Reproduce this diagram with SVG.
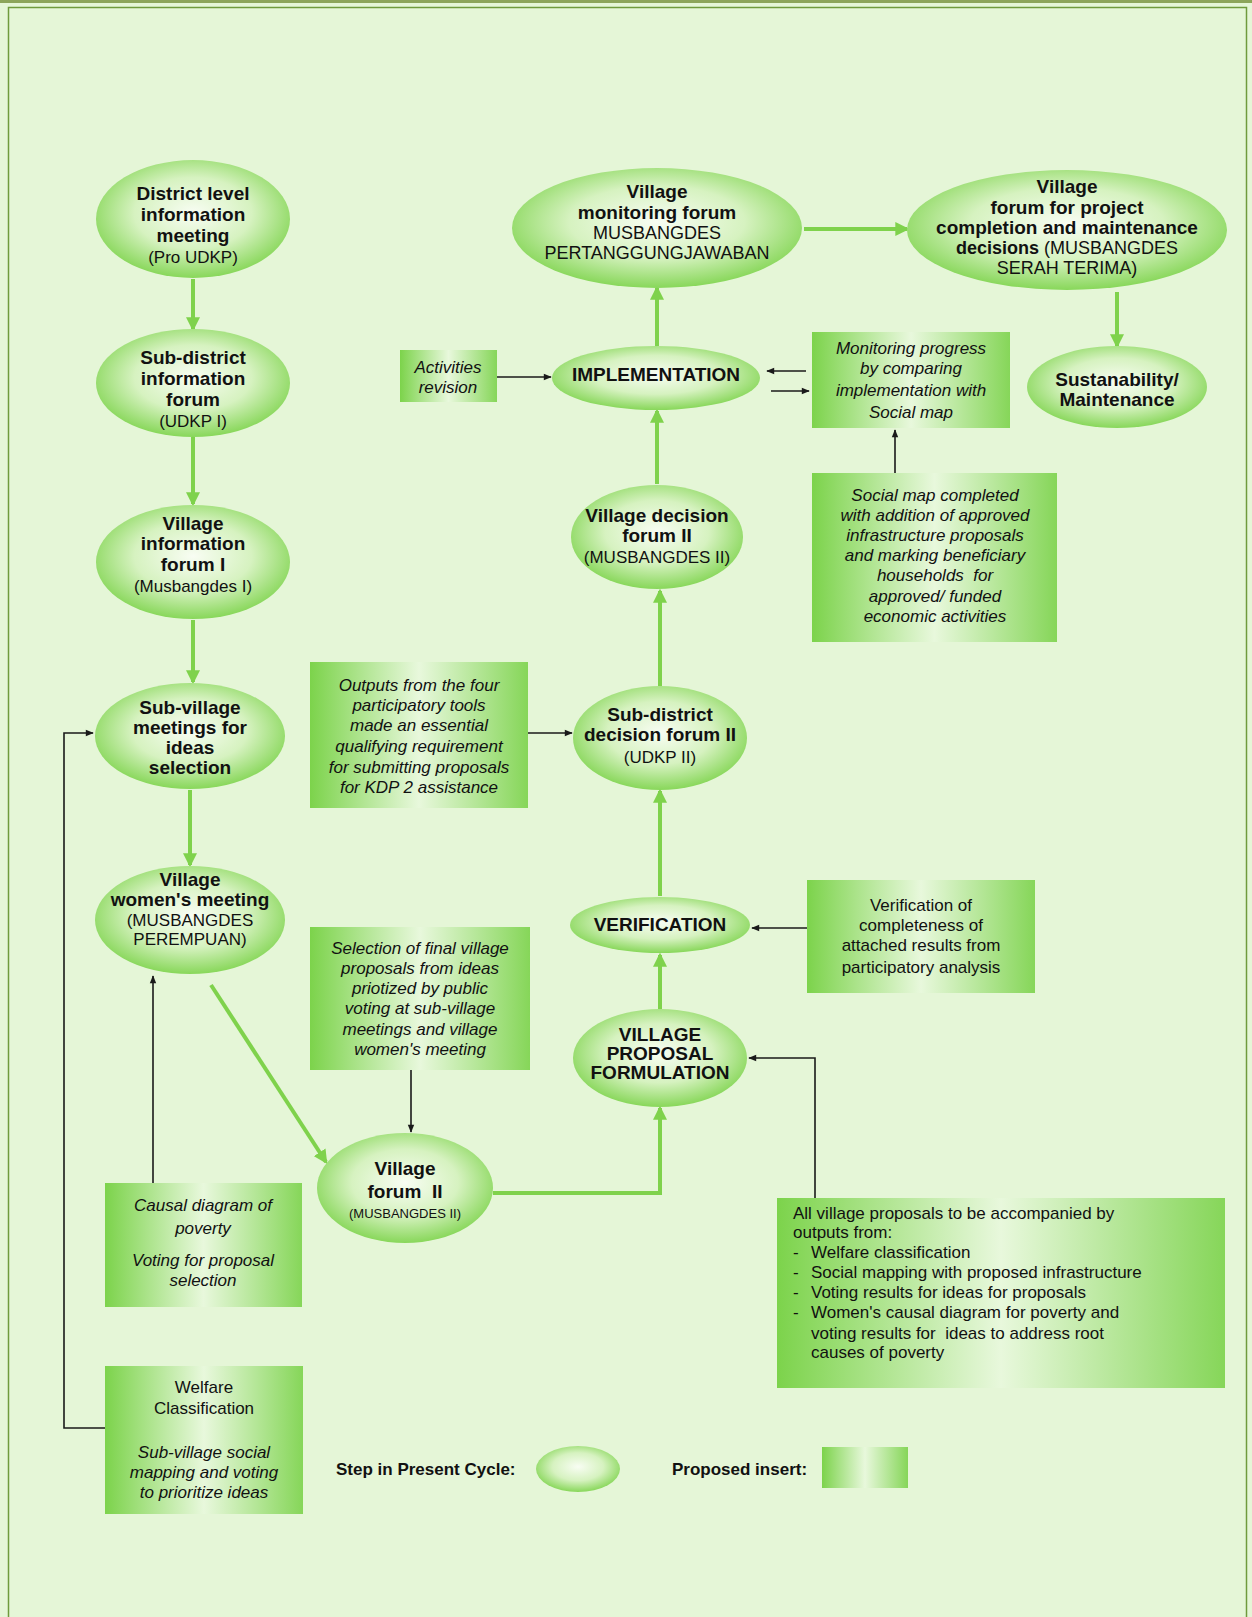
<svg xmlns="http://www.w3.org/2000/svg" width="1252" height="1617" viewBox="0 0 1252 1617">
<style>
.bg{fill:#e5f6d7}
.ell{fill:url(#eg)}
.box{fill:url(#bg)}
.t{font-family:"Liberation Sans",Arial,sans-serif;fill:#111;text-anchor:middle}
.b{font-weight:bold;font-size:19px}
.n{font-size:17px}
.i{font-style:italic;font-size:17px}
.gc{fill:none;stroke:#7fd24c;stroke-width:4;marker-end:url(#ga)}
.kc{fill:none;stroke:#1a1a1a;stroke-width:1.6;marker-end:url(#ka)}
.kl{fill:none;stroke:#1a1a1a;stroke-width:1.6}
</style>
<defs>
<radialGradient id="eg" cx="50%" cy="45%" r="55%">
<stop offset="0" stop-color="#f8fdf3"/>
<stop offset="0.55" stop-color="#d6f2c0"/>
<stop offset="1" stop-color="#88d75a"/>
</radialGradient>
<linearGradient id="bg" x1="0" y1="0" x2="1" y2="0">
<stop offset="0" stop-color="#7cd34b"/>
<stop offset="0.5" stop-color="#e8f8dc"/>
<stop offset="1" stop-color="#86d659"/>
</linearGradient>
<marker id="ga" viewBox="0 0 12 12" refX="10" refY="6" markerWidth="14" markerHeight="14" markerUnits="userSpaceOnUse" orient="auto"><path d="M0,0 L12,6 L0,12 z" fill="#7fd24c"/></marker>
<marker id="ka" viewBox="0 0 10 10" refX="9" refY="5" markerWidth="9" markerHeight="8" markerUnits="userSpaceOnUse" orient="auto"><path d="M0,1 L10,5 L0,9 z" fill="#1a1a1a"/></marker>
</defs>
<rect class="bg" x="0" y="0" width="1252" height="1617"/>
<rect x="0" y="0" width="1252" height="3" fill="#8ca55a"/>
<rect x="8.5" y="7.5" width="1238" height="1620" fill="none" stroke="#6f9b3c" stroke-width="1.5"/>

<g id="connectors">
<path class="gc" d="M193,279 L193,329"/>
<path class="gc" d="M193,437 L193,504"/>
<path class="gc" d="M193,620 L193,682"/>
<path class="gc" d="M190,790 L190,865"/>
<path class="gc" d="M211,985 L326,1162"/>
<path class="gc" d="M493,1193 L660,1193 L660,1108"/>
<path class="gc" d="M660,1009 L660,955"/>
<path class="gc" d="M660,896 L660,791"/>
<path class="gc" d="M660,686 L660,591"/>
<path class="gc" d="M657,484 L657,411"/>
<path class="gc" d="M657,346 L657,288"/>
<path class="gc" d="M804,229 L907,229"/>
<path class="gc" d="M1117,292 L1117,346"/>
<path class="kc" d="M497,377 L551,377"/>
<path class="kc" d="M806,371 L767,371"/>
<path class="kc" d="M771,391 L809,391"/>
<path class="kc" d="M895,473 L895,430"/>
<path class="kc" d="M528,733 L572,733"/>
<path class="kc" d="M411,1070 L411,1132"/>
<path class="kc" d="M807,928 L752,928"/>
<path class="kc" d="M815,1198 L815,1058 L749,1058"/>
<path class="kc" d="M153,1183 L153,976"/>
<path class="kc" d="M105,1428 L64,1428 L64,733 L93,733"/>
</g>

<g id="n-district">
<ellipse class="ell" cx="193" cy="219" rx="97" ry="59"/>
<text class="t b" x="193" y="200">District level</text>
<text class="t b" x="193" y="221">information</text>
<text class="t b" x="193" y="242">meeting</text>
<text class="t n" x="193" y="263">(Pro UDKP)</text>
</g>
<g id="n-subdistrict-info">
<ellipse class="ell" cx="193" cy="383" rx="97" ry="54"/>
<text class="t b" x="193" y="364">Sub-district</text>
<text class="t b" x="193" y="385">information</text>
<text class="t b" x="193" y="406">forum</text>
<text class="t n" x="193" y="427">(UDKP I)</text>
</g>
<g id="n-village-info">
<ellipse class="ell" cx="193" cy="562" rx="97" ry="57"/>
<text class="t b" x="193" y="530">Village</text>
<text class="t b" x="193" y="550">information</text>
<text class="t b" x="193" y="571">forum I</text>
<text class="t n" x="193" y="592">(Musbangdes I)</text>
</g>
<g id="n-subvillage">
<ellipse class="ell" cx="190" cy="736" rx="95" ry="53"/>
<text class="t b" x="190" y="714">Sub-village</text>
<text class="t b" x="190" y="734">meetings for</text>
<text class="t b" x="190" y="754">ideas</text>
<text class="t b" x="190" y="774">selection</text>
</g>
<g id="n-women">
<ellipse class="ell" cx="190" cy="920" rx="95" ry="54"/>
<text class="t b" x="190" y="886">Village</text>
<text class="t b" x="190" y="906">women's meeting</text>
<text class="t n" x="190" y="926">(MUSBANGDES</text>
<text class="t n" x="190" y="945">PEREMPUAN)</text>
</g>
<g id="n-vforum2">
<ellipse class="ell" cx="405" cy="1188" rx="88" ry="55"/>
<text class="t b" x="405" y="1175" font-size="20">Village</text>
<text class="t b" x="405" y="1198" font-size="20" xml:space="preserve">forum  II</text>
<text class="t" x="405" y="1218" font-size="13">(MUSBANGDES II)</text>
</g>
<g id="n-proposal">
<ellipse class="ell" cx="660" cy="1058" rx="87" ry="49"/>
<text class="t b" x="660" y="1041">VILLAGE</text>
<text class="t b" x="660" y="1060">PROPOSAL</text>
<text class="t b" x="660" y="1079">FORMULATION</text>
</g>
<g id="n-verification">
<ellipse class="ell" cx="660" cy="925" rx="90" ry="28"/>
<text class="t b" x="660" y="931">VERIFICATION</text>
</g>
<g id="n-subdistrict-decision">
<ellipse class="ell" cx="660" cy="738" rx="87" ry="52"/>
<text class="t b" x="660" y="721">Sub-district</text>
<text class="t b" x="660" y="741">decision forum II</text>
<text class="t n" x="660" y="763">(UDKP II)</text>
</g>
<g id="n-village-decision">
<ellipse class="ell" cx="657" cy="537" rx="86" ry="52"/>
<text class="t b" x="657" y="522">Village decision</text>
<text class="t b" x="657" y="542">forum II</text>
<text class="t n" x="657" y="563">(MUSBANGDES II)</text>
</g>
<g id="n-implementation">
<ellipse class="ell" cx="656" cy="378" rx="104" ry="32"/>
<text class="t b" x="656" y="381">IMPLEMENTATION</text>
</g>
<g id="n-monitoring">
<ellipse class="ell" cx="657" cy="228" rx="145" ry="60"/>
<text class="t b" x="657" y="198">Village</text>
<text class="t b" x="657" y="219">monitoring forum</text>
<text class="t" x="657" y="239" font-size="18">MUSBANGDES</text>
<text class="t" x="657" y="259" font-size="18">PERTANGGUNGJAWABAN</text>
</g>
<g id="n-completion">
<ellipse class="ell" cx="1067" cy="230" rx="160" ry="60"/>
<text class="t b" x="1067" y="193">Village</text>
<text class="t b" x="1067" y="214">forum for project</text>
<text class="t b" x="1067" y="234">completion and maintenance</text>
<text class="t" x="1067" y="254" font-size="18"><tspan font-weight="bold">decisions</tspan> (MUSBANGDES</text>
<text class="t" x="1067" y="274" font-size="18">SERAH TERIMA)</text>
</g>
<g id="n-sustainability">
<ellipse class="ell" cx="1117" cy="387" rx="90" ry="41"/>
<text class="t b" x="1117" y="386">Sustanability/</text>
<text class="t b" x="1117" y="406">Maintenance</text>
</g>

<g id="b-activities">
<rect class="box" x="400" y="350" width="97" height="52"/>
<text class="t i" x="448" y="373" font-size="15">Activities</text>
<text class="t i" x="448" y="393" font-size="15">revision</text>
</g>
<g id="b-monitoring">
<rect class="box" x="812" y="332" width="198" height="96"/>
<text class="t i" x="911" y="354">Monitoring progress</text>
<text class="t i" x="911" y="374">by comparing</text>
<text class="t i" x="911" y="396">implementation with</text>
<text class="t i" x="911" y="418">Social map</text>
</g>
<g id="b-socialmap">
<rect class="box" x="812" y="473" width="245" height="169"/>
<text class="t i" x="935" y="501">Social map completed</text>
<text class="t i" x="935" y="521">with addition of approved</text>
<text class="t i" x="935" y="541">infrastructure proposals</text>
<text class="t i" x="935" y="561">and marking beneficiary</text>
<text class="t i" x="935" y="581" xml:space="preserve">households  for</text>
<text class="t i" x="935" y="602">approved/ funded</text>
<text class="t i" x="935" y="622">economic activities</text>
</g>
<g id="b-outputs">
<rect class="box" x="310" y="662" width="218" height="146"/>
<text class="t i" x="419" y="691">Outputs from the four</text>
<text class="t i" x="419" y="711">participatory tools</text>
<text class="t i" x="419" y="731">made an essential</text>
<text class="t i" x="419" y="752">qualifying requirement</text>
<text class="t i" x="419" y="773">for submitting proposals</text>
<text class="t i" x="419" y="793">for KDP 2 assistance</text>
</g>
<g id="b-selection">
<rect class="box" x="310" y="927" width="220" height="143"/>
<text class="t i" x="420" y="954">Selection of final village</text>
<text class="t i" x="420" y="974">proposals from ideas</text>
<text class="t i" x="420" y="994">priotized by public</text>
<text class="t i" x="420" y="1014">voting at sub-village</text>
<text class="t i" x="420" y="1035">meetings and village</text>
<text class="t i" x="420" y="1055">women's meeting</text>
</g>
<g id="b-verif">
<rect class="box" x="807" y="880" width="228" height="113"/>
<text class="t n" x="921" y="911">Verification of</text>
<text class="t n" x="921" y="931">completeness of</text>
<text class="t n" x="921" y="951">attached results from</text>
<text class="t n" x="921" y="973">participatory analysis</text>
</g>
<g id="b-allproposals">
<rect class="box" x="777" y="1198" width="448" height="190"/>
<g font-family="Liberation Sans,Arial,sans-serif" font-size="17" fill="#111">
<text x="793" y="1219">All village proposals to be accompanied by</text>
<text x="793" y="1238">outputs from:</text>
<text x="793" y="1258">-</text><text x="811" y="1258">Welfare classification</text>
<text x="793" y="1278">-</text><text x="811" y="1278">Social mapping with proposed infrastructure</text>
<text x="793" y="1298">-</text><text x="811" y="1298">Voting results for ideas for proposals</text>
<text x="793" y="1318">-</text><text x="811" y="1318">Women's causal diagram for poverty and</text>
<text x="811" y="1339" xml:space="preserve">voting results for  ideas to address root</text>
<text x="811" y="1358">causes of poverty</text>
</g>
</g>
<g id="b-causal">
<rect class="box" x="105" y="1183" width="197" height="124"/>
<text class="t i" x="203" y="1211">Causal diagram of</text>
<text class="t i" x="203" y="1234">poverty</text>
<text class="t i" x="203" y="1266">Voting for proposal</text>
<text class="t i" x="203" y="1286">selection</text>
</g>
<g id="b-welfare">
<rect class="box" x="105" y="1366" width="198" height="148"/>
<text class="t n" x="204" y="1393">Welfare</text>
<text class="t n" x="204" y="1414">Classification</text>
<text class="t i" x="204" y="1458">Sub-village social</text>
<text class="t i" x="204" y="1478">mapping and voting</text>
<text class="t i" x="204" y="1498">to prioritize ideas</text>
</g>

<g id="legend">
<text font-family="Liberation Sans,Arial,sans-serif" font-weight="bold" font-size="17" fill="#111" x="336" y="1475">Step in Present Cycle:</text>
<ellipse class="ell" cx="578" cy="1469" rx="42" ry="23"/>
<text font-family="Liberation Sans,Arial,sans-serif" font-weight="bold" font-size="17" fill="#111" x="672" y="1475">Proposed insert:</text>
<rect class="box" x="822" y="1447" width="86" height="41"/>
</g>
</svg>
